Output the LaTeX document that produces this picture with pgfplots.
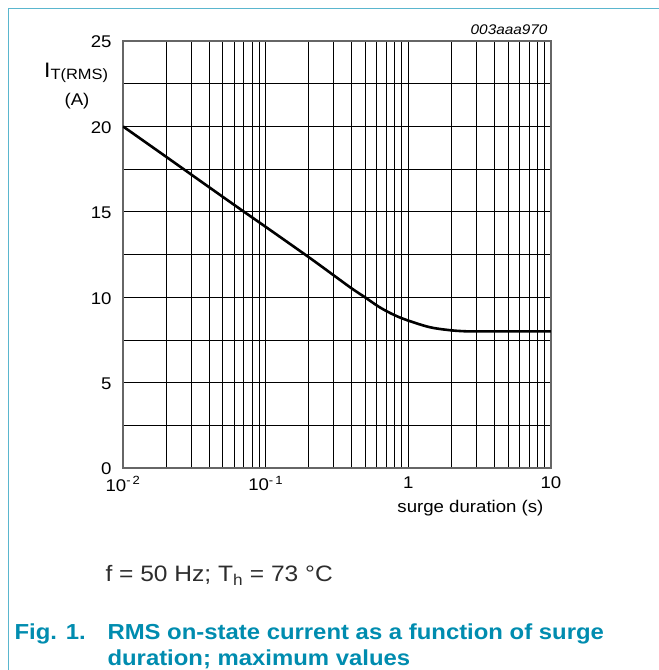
\documentclass[border=0pt]{standalone}
\usepackage{fontspec}
\setmainfont[FakeStretch=1.1]{Liberation Sans}
\usepackage{pgfplots}
\pgfplotsset{compat=1.18}
\definecolor{frameblue}{RGB}{90,182,206}
\definecolor{capblue}{RGB}{0,140,175}
\definecolor{txtgray}{RGB}{45,45,45}
\begin{document}
\begin{tikzpicture}
\path[use as bounding box] (0,0) rectangle (659bp,-670bp);
\draw[frameblue, line width=1.6bp] (8.5bp,-670bp) -- (8.5bp,-8.5bp) -- (659bp,-8.5bp);
\begin{axis}[
  at={(123bp,-468bp)}, anchor=south west,
  scale only axis, width=428bp, height=427bp,
  xmode=log, log basis x=10,
  xmin=0.01, xmax=10, ymin=0, ymax=25,
  xtick={0.01,0.1,1,10},
  xticklabels={10\textsuperscript{-\,2}, 10\textsuperscript{-\,1}, 1, 10},
  minor xtick={0.02,0.03,0.04,0.05,0.06,0.07,0.08,0.09,0.2,0.3,0.4,0.5,0.6,0.7,0.8,0.9,2,3,4,5,6,7,8,9},
  ytick={0,5,10,15,20,25},
  minor ytick={2.5,7.5,12.5,17.5,22.5},
  grid=both,
  major grid style={black, line width=0.65bp},
  minor grid style={black, line width=0.65bp},
  axis line style={black!60, line width=1.3bp},
  major tick length=0pt, minor tick length=0pt,
  tick style={draw=none},
  ticklabel style={font=\fontsize{17}{20}\selectfont},
  yticklabel style={xshift=-8bp, yshift=-1bp},
  xticklabel style={yshift=-5bp},
  /pgf/number format/assume math mode=true,
]
\addplot[black, line width=2.6bp, smooth, tension=0.55] coordinates {
  (0.01,20) (0.02,18.23) (0.04,16.45) (0.07,15.02) (0.1,14.12) (0.2,12.35)
  (0.3,11.28) (0.4,10.52) (0.5,9.98) (0.63,9.41) (0.8,8.95) (1,8.63)
  (1.42,8.24) (2,8.06) (2.6,8.0) (3,8.0) (5,8.0) (10,8.0)
};
\end{axis}
\node[anchor=base east, font=\itshape\fontsize{14}{16}\selectfont] at (551bp,-34bp) {003aaa970};
\node[anchor=base west, inner sep=0pt] at (44bp,-77bp) {{\fontsize{21}{24}\selectfont I}\raisebox{-2bp}{\fontsize{15}{18}\selectfont T(RMS)}};
\node[anchor=base, font=\fontsize{17}{20}\selectfont] at (77bp,-105bp) {(A)};
\node[anchor=base east, font=\fontsize{17}{20}\selectfont] at (547bp,-512bp) {surge duration (s)};
\node[anchor=base west, text=txtgray, font=\fontsize{22.4}{26}\selectfont] at (102bp,-581bp) {f = 50 Hz; T\textsubscript{h} = 73 °C};
\node[anchor=base west, text=capblue, font=\bfseries\fontsize{21.8}{26}\selectfont] at (11bp,-639bp) {Fig. 1.};
\node[anchor=base west, text=capblue, font=\bfseries\fontsize{21.8}{26}\selectfont] at (104bp,-639bp) {RMS on-state current as a function of surge};
\node[anchor=base west, text=capblue, font=\bfseries\fontsize{21.8}{26}\selectfont] at (104bp,-665bp) {duration; maximum values};
\end{tikzpicture}
\end{document}
